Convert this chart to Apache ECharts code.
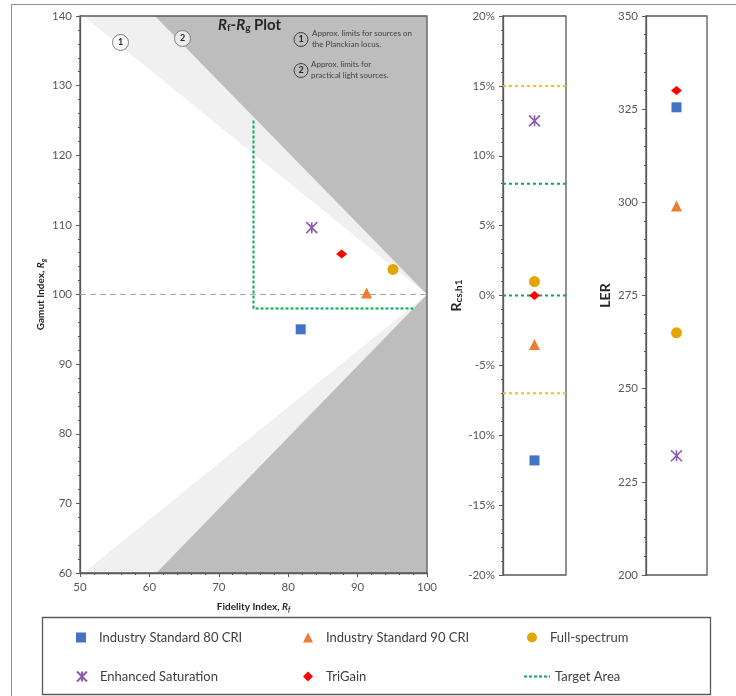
<!DOCTYPE html>
<html>
<head>
<meta charset="utf-8">
<script src="https://cdn.jsdelivr.net/npm/echarts@6/dist/echarts.min.js"></script>
<style>html,body{margin:0;padding:0;background:#fff}#c{width:736px;height:696px}</style>
</head>
<body>
<div id="c"></div>
<script>
// ---- data ----
const sourceNames = ['Industry Standard 80 CRI', 'Industry Standard 90 CRI', 'Full-spectrum', 'Enhanced Saturation', 'TriGain'];
const fidelityRf = [81.8, 91.3, 95.1, 83.4, 87.7];
const gamutRg = [95.0, 100.2, 103.6, 109.6, 105.8];
const rcsH1 = [-11.8, -3.5, 1.0, 12.5, 0.0];
const lerValues = [325.5, 299, 265, 232, 330];

// region limit polygons (Rf, Rg)
const planckianLimit = [[50.5, 140], [100, 140], [100, 60], [50.5, 60], [100, 100]];
const practicalLimit = [[60.8, 140], [100, 140], [100, 60], [61, 60], [100, 100]];
const targetAreaRfRg = [[75, 125], [75, 98], [98, 98]];
const referenceRg = [[50, 100], [100, 100]];
const rcsTargetLevels = [8, 0];
const rcsLimitLevels = [15, -7];

const rfTicks = { min: 50, max: 100, interval: 10 };
const rgTicks = { min: 60, max: 140, interval: 10 };
const rcsTicks = { min: -20, max: 20, interval: 5 };
const lerTicks = { min: 200, max: 350, interval: 25 };

// ---- styles ----
const FONT = 'Lato';
const AX = '#595959';
const markerStyles = [
  { symbol: 'rect', size: 10, color: '#4472C4' },
  { symbol: 'triangle', size: 11, color: '#ED7D31' },
  { symbol: 'circle', size: 11, color: '#E3A600' },
  { symbol: 'path://M0,0L10,10M0,10L10,0M5,0L5,10', size: 11, color: '#7030A0', stroke: true },
  { symbol: 'diamond', size: [11, 9], color: '#FF0000' }
];

function axisBase(t) {
  return {
    type: 'value', min: t.min, max: t.max, interval: t.interval,
    axisLine: { show: true, lineStyle: { color: AX, width: 1.3 } },
    axisTick: { show: true, length: 4, lineStyle: { color: AX } },
    minorTick: { show: true, splitNumber: 5, length: 2, lineStyle: { color: AX } },
    splitLine: { show: false },
    axisLabel: { color: AX, fontSize: 11.5, fontFamily: FONT, margin: 8 }
  };
}

const subRich = {
  n: { fontSize: 10, fontWeight: 'bold', color: '#262626', fontFamily: FONT },
  i: { fontSize: 10, fontWeight: 'bold', fontStyle: 'italic', color: '#262626', fontFamily: FONT },
  s: { fontSize: 7, fontWeight: 'bold', fontStyle: 'italic', color: '#262626', fontFamily: FONT, verticalAlign: 'bottom', padding: [5, 0, 0, 0] }
};

function scatterSeries(grid, xs, ys) {
  return sourceNames.map((name, k) => {
    const m = markerStyles[k];
    return {
      type: 'scatter', name: name, xAxisIndex: grid, yAxisIndex: grid,
      symbol: m.symbol, symbolSize: m.size, z: 5,
      itemStyle: m.stroke ? { color: m.color, borderColor: m.color, borderWidth: 1.6 } : { color: m.color, opacity: 1 },
      data: [[xs[k], ys[k]]]
    };
  });
}

function polySeries(poly, color) {
  return {
    type: 'custom', xAxisIndex: 0, yAxisIndex: 0, z: -1, silent: true,
    renderItem: function (params, api) {
      if (params.dataIndex !== 0) return;
      return { type: 'polygon', shape: { points: poly.map(p => api.coord(p)) }, style: { fill: color } };
    },
    data: poly
  };
}

const series = [
  polySeries(planckianLimit, '#f0f0f0'),
  polySeries(practicalLimit, '#bdbdbd'),
  { type: 'line', xAxisIndex: 0, yAxisIndex: 0, symbol: 'none', silent: true, z: 3,
    lineStyle: { color: '#a6a6a6', width: 1, type: [6, 4] }, data: referenceRg },
  { type: 'line', name: 'Target Area', xAxisIndex: 0, yAxisIndex: 0, symbol: 'none', z: 3,
    itemStyle: { color: '#00B050', opacity: 0 },
    lineStyle: { color: '#00B050', width: 2, type: [3, 2] }, data: targetAreaRfRg },
  ...scatterSeries(0, fidelityRf, gamutRg)
];
rcsLimitLevels.forEach(v => series.push({ type: 'line', xAxisIndex: 1, yAxisIndex: 1, symbol: 'none', z: 3,
  itemStyle: { color: '#FFC000', opacity: 0 },
  lineStyle: { color: '#FFC000', width: 2, type: [3, 3] }, data: [[0, v], [2, v]] }));
rcsTargetLevels.forEach(v => series.push({ type: 'line', name: 'Target Area', xAxisIndex: 1, yAxisIndex: 1, symbol: 'none', z: 3,
  itemStyle: { color: '#00B050', opacity: 0 },
  lineStyle: { color: '#00B050', width: 2, type: [3, 3] }, data: [[0, v], [2, v]] }));
series.push(...scatterSeries(1, [1, 1, 1, 1, 1], rcsH1));
series.push(...scatterSeries(2, [1, 1, 1, 1, 1], lerValues));

function legendAt(name, left, top, w) {
  const item = w ? { name: name, itemStyle: { opacity: 0 } } : name;
  return {
    data: [item], left: left, top: top, itemWidth: w || 10, itemHeight: 10, padding: 0,
    selectedMode: false,
    textStyle: { fontSize: 13, color: '#404040', fontFamily: FONT, padding: [0, 0, 0, w ? 0 : 8] }
  };
}

const annTxt = { fill: '#404040', font: '8px Lato' };
const option = {
  animation: false,
  textStyle: { fontFamily: FONT },
  title: {
    text: '{i|R}{s|f}{n|-}{i|R}{s|g}{n| Plot}', left: 218, top: 17, padding: 0,
    textStyle: { rich: {
      n: { fontSize: 15, fontWeight: 'bold', color: '#262626', fontFamily: FONT },
      i: { fontSize: 15, fontWeight: 'bold', fontStyle: 'italic', color: '#262626', fontFamily: FONT },
      s: { fontSize: 10, fontWeight: 'bold', color: '#262626', fontFamily: FONT, verticalAlign: 'bottom', padding: [6, 0, 0, 0] }
    } }
  },
  grid: [
    { left: 80, top: 16, width: 347, height: 557, show: true, borderColor: AX, borderWidth: 1.3 },
    { left: 503, top: 16, width: 63, height: 559, show: true, borderColor: AX, borderWidth: 1.3 },
    { left: 646, top: 16, width: 61, height: 559, show: true, borderColor: AX, borderWidth: 1.3 }
  ],
  xAxis: [
    Object.assign(axisBase(rfTicks), { gridIndex: 0, name: '{n|Fidelity Index, }{i|R}{s|f}', nameLocation: 'middle', nameGap: 28,
      nameTextStyle: { rich: subRich } }),
    { gridIndex: 1, type: 'value', min: 0, max: 2, show: false },
    { gridIndex: 2, type: 'value', min: 0, max: 2, show: false }
  ],
  yAxis: [
    Object.assign(axisBase(rgTicks), { gridIndex: 0, name: '{n|Gamut Index, }{i|R}{s|g}', nameLocation: 'middle', nameGap: 33,
      nameTextStyle: { rich: subRich } }),
    Object.assign(axisBase(rcsTicks), { gridIndex: 1, name: '{b|R}{s|cs,h1}', nameLocation: 'middle', nameGap: 31,
      axisLabel: { color: AX, fontSize: 11.5, fontFamily: FONT, margin: 8, formatter: v => v + '%' },
      nameTextStyle: { rich: {
        b: { fontSize: 14, fontWeight: 'bold', color: '#262626', fontFamily: FONT },
        s: { fontSize: 10, fontWeight: 'bold', color: '#262626', fontFamily: FONT, verticalAlign: 'bottom', padding: [6, 0, 0, 0] }
      } } }),
    Object.assign(axisBase(lerTicks), { gridIndex: 2, name: 'LER', nameLocation: 'middle', nameGap: 34,
      nameTextStyle: { fontSize: 14, fontWeight: 'bold', color: '#262626', fontFamily: FONT } })
  ],
  legend: [
    legendAt(sourceNames[0], 76, 631),
    legendAt(sourceNames[1], 303, 631),
    legendAt(sourceNames[2], 527, 631),
    legendAt(sourceNames[3], 76, 670),
    legendAt(sourceNames[4], 303, 670),
    legendAt('Target Area', 523, 670, 26)
  ],
  graphic: [
    { type: 'line', shape: { x1: 11.5, y1: 4.5, x2: 736, y2: 4.5 }, style: { stroke: '#8c8c8c', lineWidth: 1 }, silent: true },
    { type: 'line', shape: { x1: 11.5, y1: 4.5, x2: 11.5, y2: 696 }, style: { stroke: '#8c8c8c', lineWidth: 1 }, silent: true },
    { type: 'rect', shape: { x: 42.5, y: 617.5, width: 668, height: 77 }, style: { fill: 'none', stroke: AX, lineWidth: 1.3 }, silent: true },
    { type: 'circle', shape: { cx: 120.5, cy: 42.5, r: 8 }, style: { fill: '#fafafa', stroke: '#7f7f7f', lineWidth: 1 }, silent: true },
    { type: 'text', x: 120.5, y: 42.5, style: { text: '1', fill: '#262626', font: 'bold 9px Lato', align: 'center', verticalAlign: 'middle' }, silent: true },
    { type: 'circle', shape: { cx: 182.5, cy: 38.5, r: 8 }, style: { fill: '#ececec', stroke: '#7f7f7f', lineWidth: 1 }, silent: true },
    { type: 'text', x: 182.5, y: 38.5, style: { text: '2', fill: '#262626', font: 'bold 9px Lato', align: 'center', verticalAlign: 'middle' }, silent: true },
    { type: 'circle', shape: { cx: 301, cy: 39.5, r: 7 }, style: { fill: 'none', stroke: '#404040', lineWidth: 1 }, silent: true },
    { type: 'text', x: 301, y: 39.5, style: { text: '1', fill: '#262626', font: 'bold 9px Lato', align: 'center', verticalAlign: 'middle' }, silent: true },
    { type: 'circle', shape: { cx: 301, cy: 70.5, r: 7 }, style: { fill: 'none', stroke: '#404040', lineWidth: 1 }, silent: true },
    { type: 'text', x: 301, y: 70.5, style: { text: '2', fill: '#262626', font: 'bold 9px Lato', align: 'center', verticalAlign: 'middle' }, silent: true },
    { type: 'text', x: 312, y: 33.5, style: Object.assign({ text: 'Approx. limits for sources on', verticalAlign: 'middle' }, annTxt), silent: true },
    { type: 'text', x: 312, y: 44.5, style: Object.assign({ text: 'the Planckian locus.', verticalAlign: 'middle' }, annTxt), silent: true },
    { type: 'text', x: 311, y: 64.5, style: Object.assign({ text: 'Approx. limits for', verticalAlign: 'middle' }, annTxt), silent: true },
    { type: 'text', x: 311, y: 75.5, style: Object.assign({ text: 'practical light sources.', verticalAlign: 'middle' }, annTxt), silent: true }
  ],
  series: series
};
const chart = echarts.init(document.getElementById('c'), null, { renderer: 'canvas' });
chart.setOption(option);
</script>
</body>
</html>
